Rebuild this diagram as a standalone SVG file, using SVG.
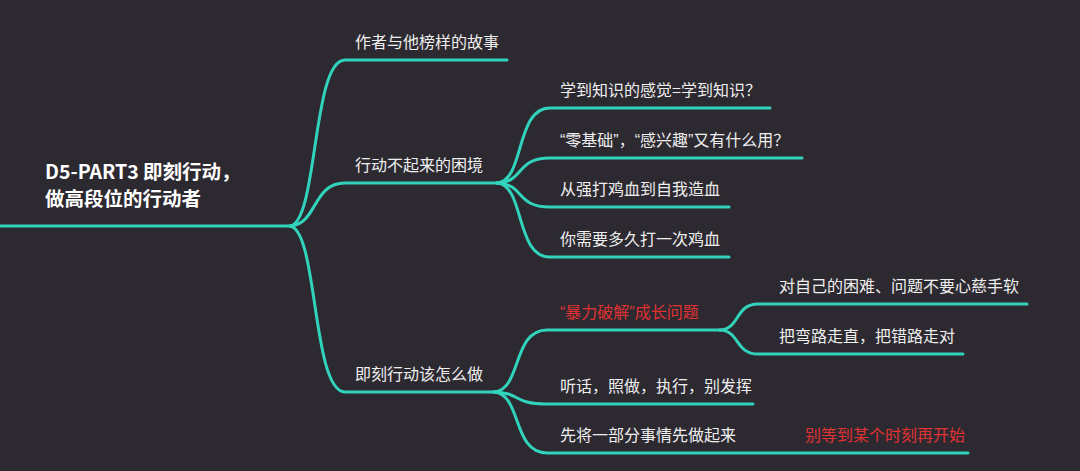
<svg xmlns="http://www.w3.org/2000/svg" width="1080" height="471" viewBox="0 0 1080 471">
<style>
.bg{fill:#2d2931}
.ln{fill:none;stroke:#31d3bc;stroke-width:3;stroke-linecap:round}
text{font-family:"Noto Sans CJK SC","Noto Sans",sans-serif;fill:#efefef;font-size:16px}
.q{font-family:"Liberation Sans",sans-serif}
.root{font-size:19.5px;font-weight:bold;fill:#ffffff}
.red{fill:#e03232}
</style>
<rect class="bg" x="0" y="0" width="1080" height="471"/>
<g id="connectors">
<path class="ln" d="M0,226 H290"/>
<path class="ln" d="M290,226 C318,222 312,60 345,60 H507"/>
<path class="ln" d="M290,226 C318,224 312,183 345,183 H497"/>
<path class="ln" d="M290,226 C318,230 312,392 345,392 H494"/>
<path class="ln" d="M497,183 C525,181 515,108 550,108 H770"/>
<path class="ln" d="M497,183 C525,182 515,158 550,158 H802"/>
<path class="ln" d="M497,183 C525,184 515,207 550,207 H729"/>
<path class="ln" d="M497,183 C525,185 515,257 550,257 H729"/>
<path class="ln" d="M494,392 C522,390 512,330 547,330 H720"/>
<path class="ln" d="M494,392 C522,393 512,404 547,404 H753"/>
<path class="ln" d="M494,392 C522,394 512,453 547,453 H968"/>
<path class="ln" d="M720,330 C740,329 735,304 758,304 H1027"/>
<path class="ln" d="M720,330 C740,331 735,354 758,354 H963"/>
</g>
<g id="root"><text class="root" x="45" y="179">D5-PART3 即刻行动，</text><text class="root" x="45" y="206">做高段位的行动者</text></g>
<g id="n1"><text x="355" y="48">作者与他榜样的故事</text></g>
<g id="n2"><text x="355" y="171">行动不起来的困境</text></g>
<g id="n3"><text x="355" y="380">即刻行动该怎么做</text></g>
<g id="n21"><text x="560" y="96">学到知识的感觉=学到知识？</text></g>
<g id="n22"><text x="560" y="146"><tspan class="q">“</tspan>零基础<tspan class="q">”</tspan>，<tspan class="q">“</tspan>感兴趣<tspan class="q">”</tspan>又有什么用？</text></g>
<g id="n23"><text x="560" y="195">从强打鸡血到自我造血</text></g>
<g id="n24"><text x="560" y="245">你需要多久打一次鸡血</text></g>
<g id="n31"><text class="red" x="560" y="318"><tspan class="q">“</tspan>暴力破解<tspan class="q">”</tspan>成长问题</text></g>
<g id="n311"><text x="779" y="292">对自己的困难、问题不要心慈手软</text></g>
<g id="n312"><text x="779" y="342">把弯路走直，把错路走对</text></g>
<g id="n32"><text x="560" y="392">听话，照做，执行，别发挥</text></g>
<g id="n33"><text x="560" y="441">先将一部分事情先做起来</text></g>
<g id="n33note"><text class="red" x="805" y="441">别等到某个时刻再开始</text></g>
</svg>
